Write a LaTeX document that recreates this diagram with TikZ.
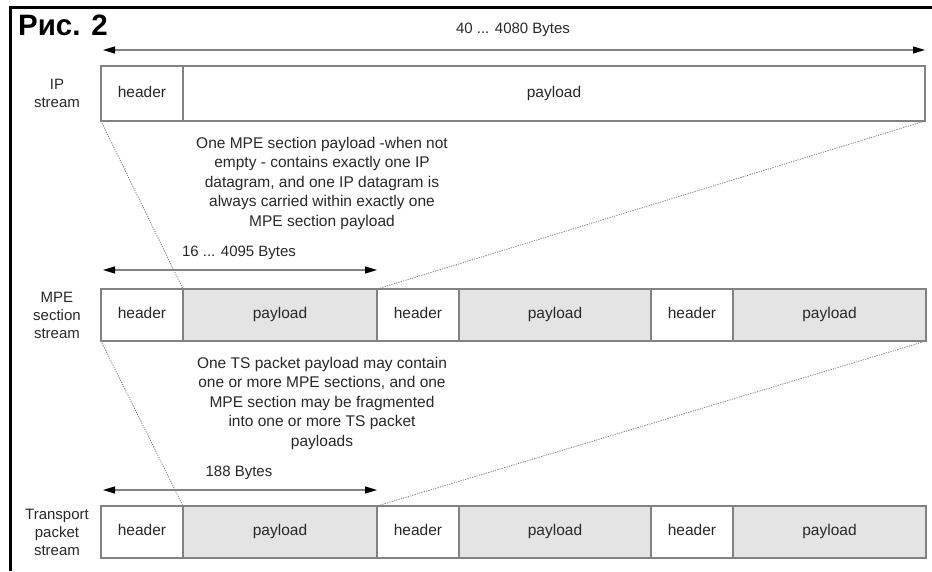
\documentclass[tikz,border=0pt]{standalone}
\usepackage{fontspec}
\setmainfont{Liberation Sans}
\usetikzlibrary{arrows.meta}
\usetikzlibrary{positioning}
\definecolor{boxline}{RGB}{130,130,130}
\definecolor{payfill}{RGB}{228,228,228}
\definecolor{txt}{RGB}{40,40,40}
\tikzset{
	cell/.style={draw=boxline,line width=1.2pt,outer sep=0pt,inner sep=0pt,
		minimum height=#1,text=txt,text height=11pt,text depth=3.5pt,
		font=\fontsize{15.5}{17}\selectfont},
	hdr/.style={cell=52pt,fill=white,minimum width=82pt},
	pld/.style={cell=52pt,fill=payfill},
	rowlabel/.style={align=center,text=txt,font=\fontsize{15}{18}\selectfont},
	note/.style={align=center,text=txt,font=\fontsize{15.5}{19.5}\selectfont},
	guide/.style={draw=boxline,line width=0.8pt,dash pattern=on 1.2pt off 1.2pt},
	dimline/.style={draw=boxline,line width=1.2pt,
		{Triangle[length=12pt,width=7pt,color=black]}-{Triangle[length=12pt,width=7pt,color=black]}}
}
\begin{document}
\begin{tikzpicture}[x=1pt,y=1pt]
	\useasboundingbox (0,0) rectangle (932,571);
	% frame
	\draw[line width=3pt] (10,0)--(10,563)--(932,563);
	\node[font=\bfseries\fontsize{29.5}{31}\selectfont] (title) at (63,546) {Рис. 2};
	
	% IP stream
	\node[hdr,minimum height=55pt,anchor=west] (ip-h) at (101,477.5) {header};
	\node[cell=55pt,fill=white,minimum width=742pt,right=0pt of ip-h] (ip-p) {payload};
	\node[rowlabel] (ip-l) at (57,477.5) {IP\\stream};
	\coordinate (ip-a1) at (103,521);
	\coordinate (ip-a2) at (925,521);
	\draw[dimline] (ip-a1)--(ip-a2);
	\node[rowlabel] (ip-d) at (513,541) {40 ... 4080 Bytes};
	
	% MPE section stream
	\node[hdr,anchor=west] (mpe-h1) at (101,256) {header};
	\node[pld,minimum width=194pt,right=0pt of mpe-h1] (mpe-p1) {payload};
	\node[hdr,right=0pt of mpe-p1] (mpe-h2) {header};
	\node[pld,minimum width=192pt,right=0pt of mpe-h2] (mpe-p2) {payload};
	\node[hdr,right=0pt of mpe-p2] (mpe-h3) {header};
	\node[pld,minimum width=193pt,right=0pt of mpe-h3] (mpe-p3) {payload};
	\node[rowlabel] (mpe-l) at (57,256) {MPE\\section\\stream};
	\coordinate (mpe-a1) at (103,301);
	\coordinate (mpe-a2) at (377,301);
	\draw[dimline] (mpe-a1)--(mpe-a2);
	\node[rowlabel] (mpe-d) at (239,318) {16 ... 4095 Bytes};
	
	% transport packet stream
	\node[hdr,anchor=west] (ts-h1) at (101,39) {header};
	\node[pld,minimum width=194pt,right=0pt of ts-h1] (ts-p1) {payload};
	\node[hdr,right=0pt of ts-p1] (ts-h2) {header};
	\node[pld,minimum width=192pt,right=0pt of ts-h2] (ts-p2) {payload};
	\node[hdr,right=0pt of ts-p2] (ts-h3) {header};
	\node[pld,minimum width=193pt,right=0pt of ts-h3] (ts-p3) {payload};
	\node[rowlabel] (ts-l) at (57,39) {Transport\\packet\\stream};
	\coordinate (ts-a1) at (103,81);
	\coordinate (ts-a2) at (377,81);
	\draw[dimline] (ts-a1)--(ts-a2);
	\node[rowlabel] (ts-d) at (239,98) {188 Bytes};
	
	% mapping lines
	\draw[guide] (ip-h.south west)--(mpe-p1.north west);
	\draw[guide] (ip-p.south east)--(mpe-p1.north east);
	\draw[guide] (mpe-h1.south west)--(ts-p1.north west);
	\draw[guide] (mpe-p3.south east)--(ts-p1.north east);
	
	\node[note] (note1) at (322,388) {One MPE section payload -when not\\
		empty - contains exactly one IP\\datagram, and one IP datagram is\\
		always carried within exactly one\\MPE section payload};
	\node[note] (note2) at (322,168) {One TS packet payload may contain\\
		one or more MPE sections, and one\\MPE section may be fragmented\\
		into one or more TS packet\\payloads};
\end{tikzpicture}
\end{document}
